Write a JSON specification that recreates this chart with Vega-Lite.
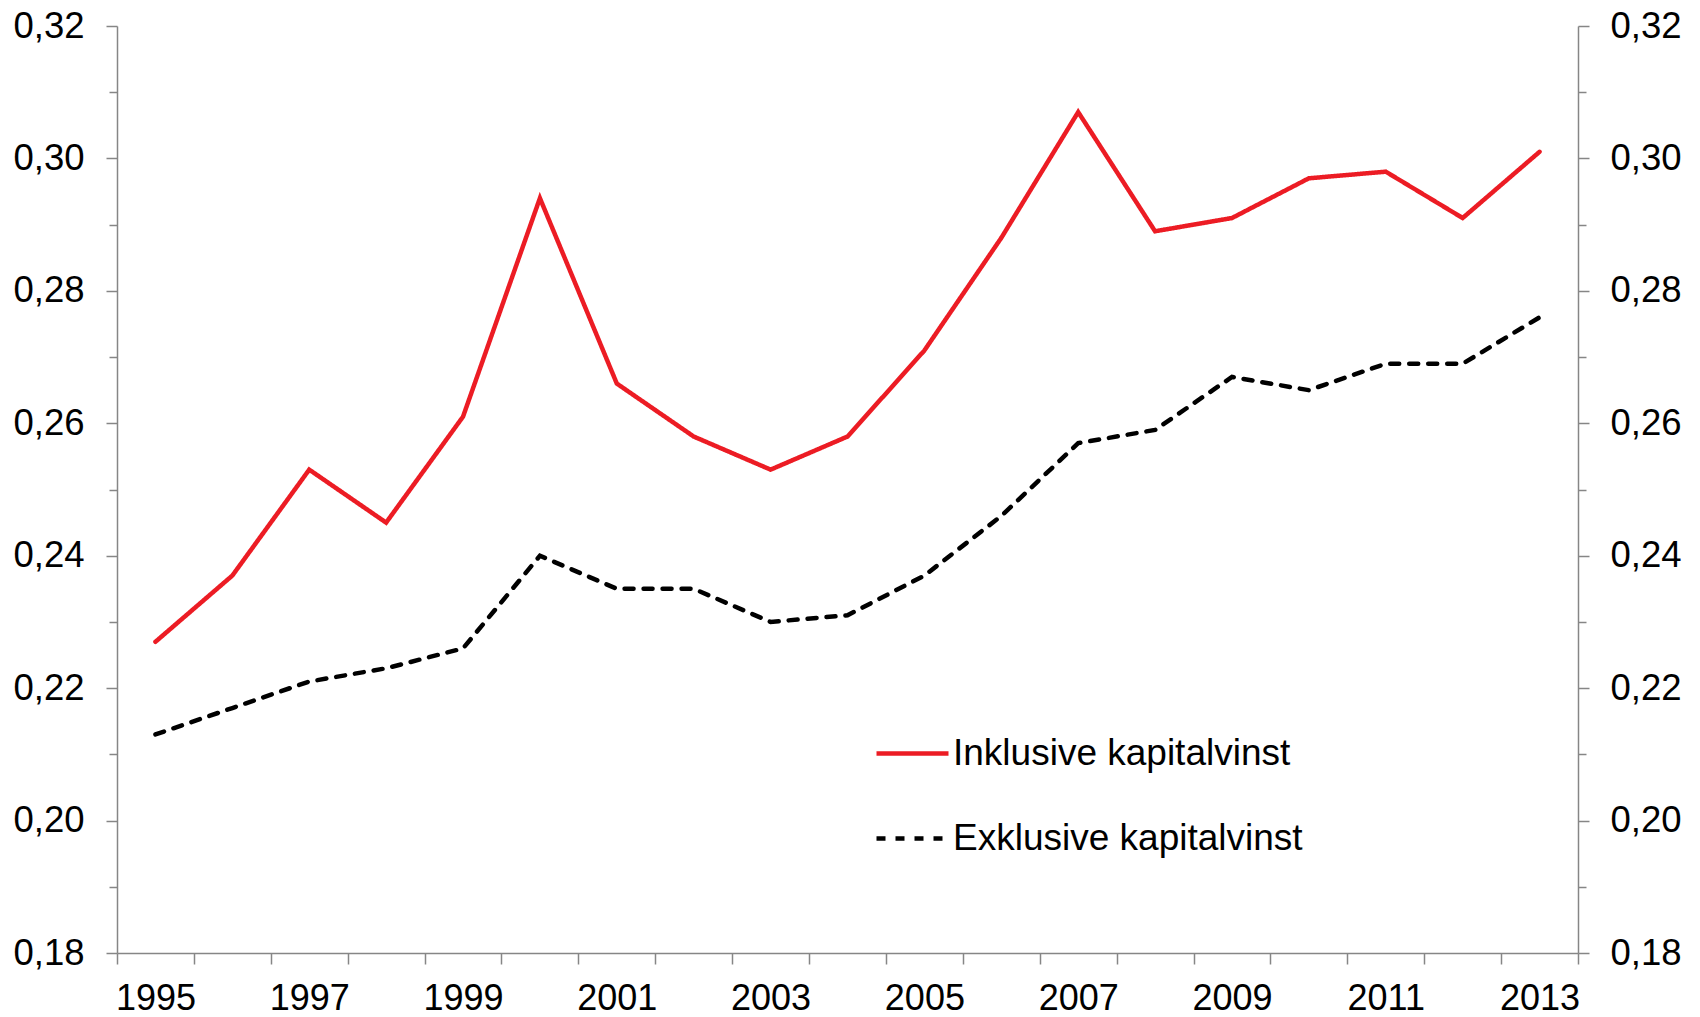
{
  "$schema": "https://vega.github.io/schema/vega-lite/v6.json",
  "autosize": {"type": "none"},
  "padding": {"left": 117, "top": 26, "right": 122, "bottom": 64},
  "width": 1461,
  "height": 927,
  "background": "white",
  "config": {
    "view": {"stroke": null},
    "font": "Liberation Sans",
    "axis": {
      "labelFont": "Liberation Sans",
      "labelFontSize": 36.5,
      "labelColor": "#000000",
      "domainColor": "#868686",
      "domainWidth": 1.5,
      "tickColor": "#868686",
      "tickWidth": 1.5,
      "grid": false,
      "title": null,
      "labelOverlap": false,
      "labelBound": false,
      "labelFlush": false
    },
    "legend": {
      "labelFont": "Liberation Sans",
      "labelFontSize": 37,
      "labelColor": "#000000",
      "labelLimit": 0
    }
  },
  "data": {
    "values": [
      {"year": 1995, "serie": "Inklusive kapitalvinst", "value": 0.227},
      {"year": 1996, "serie": "Inklusive kapitalvinst", "value": 0.237},
      {"year": 1997, "serie": "Inklusive kapitalvinst", "value": 0.253},
      {"year": 1998, "serie": "Inklusive kapitalvinst", "value": 0.245},
      {"year": 1999, "serie": "Inklusive kapitalvinst", "value": 0.261},
      {"year": 2000, "serie": "Inklusive kapitalvinst", "value": 0.294},
      {"year": 2001, "serie": "Inklusive kapitalvinst", "value": 0.266},
      {"year": 2002, "serie": "Inklusive kapitalvinst", "value": 0.258},
      {"year": 2003, "serie": "Inklusive kapitalvinst", "value": 0.253},
      {"year": 2004, "serie": "Inklusive kapitalvinst", "value": 0.258},
      {"year": 2005, "serie": "Inklusive kapitalvinst", "value": 0.271},
      {"year": 2006, "serie": "Inklusive kapitalvinst", "value": 0.288},
      {"year": 2007, "serie": "Inklusive kapitalvinst", "value": 0.307},
      {"year": 2008, "serie": "Inklusive kapitalvinst", "value": 0.289},
      {"year": 2009, "serie": "Inklusive kapitalvinst", "value": 0.291},
      {"year": 2010, "serie": "Inklusive kapitalvinst", "value": 0.297},
      {"year": 2011, "serie": "Inklusive kapitalvinst", "value": 0.298},
      {"year": 2012, "serie": "Inklusive kapitalvinst", "value": 0.291},
      {"year": 2013, "serie": "Inklusive kapitalvinst", "value": 0.301},
      {"year": 1995, "serie": "Exklusive kapitalvinst", "value": 0.213},
      {"year": 1996, "serie": "Exklusive kapitalvinst", "value": 0.217},
      {"year": 1997, "serie": "Exklusive kapitalvinst", "value": 0.221},
      {"year": 1998, "serie": "Exklusive kapitalvinst", "value": 0.223},
      {"year": 1999, "serie": "Exklusive kapitalvinst", "value": 0.226},
      {"year": 2000, "serie": "Exklusive kapitalvinst", "value": 0.240},
      {"year": 2001, "serie": "Exklusive kapitalvinst", "value": 0.235},
      {"year": 2002, "serie": "Exklusive kapitalvinst", "value": 0.235},
      {"year": 2003, "serie": "Exklusive kapitalvinst", "value": 0.230},
      {"year": 2004, "serie": "Exklusive kapitalvinst", "value": 0.231},
      {"year": 2005, "serie": "Exklusive kapitalvinst", "value": 0.237},
      {"year": 2006, "serie": "Exklusive kapitalvinst", "value": 0.246},
      {"year": 2007, "serie": "Exklusive kapitalvinst", "value": 0.257},
      {"year": 2008, "serie": "Exklusive kapitalvinst", "value": 0.259},
      {"year": 2009, "serie": "Exklusive kapitalvinst", "value": 0.267},
      {"year": 2010, "serie": "Exklusive kapitalvinst", "value": 0.265},
      {"year": 2011, "serie": "Exklusive kapitalvinst", "value": 0.269},
      {"year": 2012, "serie": "Exklusive kapitalvinst", "value": 0.269},
      {"year": 2013, "serie": "Exklusive kapitalvinst", "value": 0.276}
    ]
  },
  "resolve": {"axis": {"y": "independent", "x": "independent"}},
  "layer": [
    {
      "transform": [{"filter": "datum.serie === 'Exklusive kapitalvinst'"}],
      "mark": {"type": "line", "strokeWidth": 4.5, "strokeCap": "round"},
      "encoding": {
        "x": {
          "field": "year", "type": "quantitative",
          "scale": {"domain": [1994.5, 2013.5], "nice": false, "zero": false},
          "axis": {
            "orient": "bottom",
            "values": [1994.5,1995.5,1996.5,1997.5,1998.5,1999.5,2000.5,2001.5,2002.5,2003.5,2004.5,2005.5,2006.5,2007.5,2008.5,2009.5,2010.5,2011.5,2012.5,2013.5],
            "labels": false,
            "tickSize": 11
          }
        },
        "y": {
          "field": "value", "type": "quantitative",
          "scale": {"domain": [0.18, 0.32], "nice": false, "zero": false},
          "axis": {
            "orient": "left",
            "values": [0.18,0.19,0.20,0.21,0.22,0.23,0.24,0.25,0.26,0.27,0.28,0.29,0.30,0.31,0.32],
            "labelExpr": "round(datum.value*100) % 2 === 0 ? replace(format(datum.value, '.2f'), '.', ',') : ''",
            "tickSize": {"condition": {"test": "round(datum.value*100) % 2 === 0", "value": 11}, "value": 8},
            "labelPadding": 22
          }
        },
        "color": {
          "field": "serie", "type": "nominal",
          "scale": {"domain": ["Inklusive kapitalvinst", "Exklusive kapitalvinst"], "range": ["#EC1C24", "#000000"]},
          "legend": {
            "title": null,
            "orient": "none",
            "legendX": 757,
            "legendY": 689,
            "symbolType": "stroke",
            "symbolSize": 5184,
            "symbolStrokeWidth": 4.5,
            "labelOffset": 2,
            "rowPadding": 28
          }
        },
        "strokeDash": {
          "field": "serie", "type": "nominal",
          "scale": {"domain": ["Inklusive kapitalvinst", "Exklusive kapitalvinst"], "range": [[1, 0], [9, 10]]},
          "legend": {
            "title": null,
            "orient": "none",
            "legendX": 757,
            "legendY": 689,
            "symbolType": "stroke",
            "symbolSize": 5184,
            "symbolStrokeWidth": 4.5,
            "labelOffset": 2,
            "rowPadding": 28
          }
        }
      }
    },
    {
      "transform": [{"filter": "datum.serie === 'Inklusive kapitalvinst'"}],
      "mark": {"type": "line", "strokeWidth": 4.5, "strokeCap": "round", "strokeJoin": "miter"},
      "encoding": {
        "x": {
          "field": "year", "type": "quantitative",
          "axis": {
            "orient": "bottom",
            "values": [1995, 1997, 1999, 2001, 2003, 2005, 2007, 2009, 2011, 2013],
            "format": "d",
            "ticks": false,
            "domain": false,
            "labelFontSize": 36,
            "labelPadding": 28
          }
        },
        "y": {
          "field": "value", "type": "quantitative",
          "axis": {
            "orient": "right",
            "values": [0.18,0.19,0.20,0.21,0.22,0.23,0.24,0.25,0.26,0.27,0.28,0.29,0.30,0.31,0.32],
            "labelExpr": "round(datum.value*100) % 2 === 0 ? replace(format(datum.value, '.2f'), '.', ',') : ''",
            "tickSize": {"condition": {"test": "round(datum.value*100) % 2 === 0", "value": 11}, "value": 8},
            "labelPadding": 21
          }
        },
        "color": {"field": "serie", "type": "nominal"},
        "strokeDash": {"field": "serie", "type": "nominal"}
      }
    }
  ]
}
